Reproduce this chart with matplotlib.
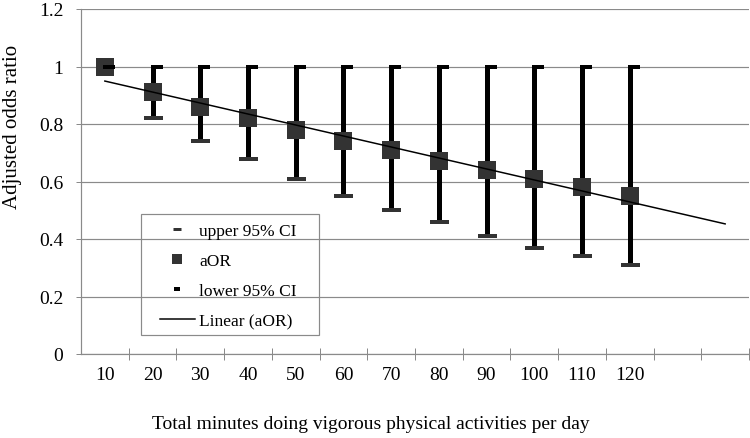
import numpy as np
import matplotlib
matplotlib.use("Agg")
import matplotlib.pyplot as plt
from matplotlib.lines import Line2D
from matplotlib.patches import Rectangle
from matplotlib.path import Path

# minutes of vigorous activity per day (category axis, two empty slots at the end)
minutes = ["10", "20", "30", "40", "50", "60", "70", "80", "90", "100", "110", "120"]
n_slots = 14

aor = [1.00, 0.91, 0.86, 0.82, 0.78, 0.74, 0.71, 0.67, 0.64, 0.61, 0.58, 0.55]
upper_ci = [1.00, 1.00, 1.00, 1.00, 1.00, 1.00, 1.00, 1.00, 1.00, 1.00, 1.00, 1.00]
lower_ci = [1.00, 0.82, 0.74, 0.68, 0.61, 0.55, 0.50, 0.46, 0.41, 0.37, 0.34, 0.31]

plt.rcParams['font.family'] = ['Liberation Serif', 'DejaVu Serif']

PX = 72 / 100  # points per pixel at dpi=100
dark = '#333333'
grid_col = '#8a8a8a'

fig = plt.figure(figsize=(7.5, 4.39), dpi=100)
ax = fig.add_axes([81 / 750, 1 - 355 / 439, 668 / 750, 345 / 439])

x = np.arange(1, len(minutes) + 1)

# high-low lines
ax.vlines(x, lower_ci, upper_ci, color='black', lw=5 * PX, zorder=3)

# aOR squares
ax.plot(x, aor, ls='none', marker='s', ms=18.5 * PX, mfc=dark, mec=dark, mew=0, zorder=4)

# lower CI dashes
ax.plot(x, lower_ci, ls='none', marker='_', ms=19 * PX, mew=4 * PX, color=dark, zorder=4)

# upper CI dashes (drawn offset to the right, like the Excel high-low style)
cap = Path([(-0.2, -0.2), (1, -0.2), (1, 0.2), (-0.2, 0.2), (-0.2, -0.2)],
           [Path.MOVETO, Path.LINETO, Path.LINETO, Path.LINETO, Path.CLOSEPOLY])
ax.plot(x, upper_ci, ls='none', marker=cap, ms=20 * PX, mfc='black', mew=0, zorder=5)

# linear trend of aOR, forecast forward 2 periods
slope, icpt = np.polyfit(x, aor, 1)
xt = np.array([1, n_slots])
ax.plot(xt, slope * xt + icpt, color='black', lw=1.5 * PX, zorder=6)

ax.set_xlim(0.5, n_slots + 0.5)
ax.set_ylim(0, 1.2)
ax.set_yticks(np.arange(0, 1.21, 0.2))
ax.set_yticklabels(['0', '0.2', '0.4', '0.6', '0.8', '1', '1.2'])
ax.yaxis.grid(True, color=grid_col, lw=1.2 * PX, zorder=0)
ax.set_axisbelow(True)

ax.set_xticks(x)
ax.set_xticklabels(minutes)
ax.set_xticks(np.arange(1.5, n_slots + 0.6, 1), minor=True)
ax.tick_params(axis='x', which='major', length=0, pad=9, labelsize=14)
ax.tick_params(axis='x', which='minor', direction='inout', length=9 * PX * 1.4, width=1 * PX, color=grid_col)
ax.tick_params(axis='y', length=5 * PX, width=1 * PX, color=grid_col, pad=9, labelsize=14)

for s in ['top', 'right']:
    ax.spines[s].set_visible(False)
for s in ['left', 'bottom']:
    ax.spines[s].set_color(grid_col)
    ax.spines[s].set_linewidth(1.2 * PX)

fig.text(13 / 750, 1 - 126.5 / 439, 'Adjusted odds ratio', rotation=90,
         ha='center', va='center', fontsize=15)
fig.text(371 / 750, 1 - 425 / 439, 'Total minutes doing vigorous physical activities per day',
         ha='center', va='center', fontsize=14)

# legend (transparent, gridlines show through) with a plain gray box
handles = [
    Line2D([], [], ls='none', marker='_', ms=8 * PX, mew=3 * PX, color=dark),
    Line2D([], [], ls='none', marker='s', ms=10 * PX, mfc=dark, mew=0),
    Line2D([], [], ls='none', marker='_', ms=6 * PX, mew=4 * PX, color='black'),
    Line2D([], [], color='black', lw=1.5 * PX),
]
labels = ['upper 95% CI', 'aOR', 'lower 95% CI', 'Linear (aOR)']
fig.legend(handles, labels, loc='upper left', bbox_to_anchor=(160 / 750, 1 - 224 / 439),
           frameon=False, fontsize=12.5, borderpad=0, borderaxespad=0,
           handlelength=2.0, handletextpad=0.25, labelspacing=0.8)
fig.add_artist(Rectangle((141 / 750, 1 - 336 / 439), 178 / 750, 121 / 439,
                         transform=fig.transFigure, fill=False, ec=grid_col, lw=1.2 * PX))

fig.savefig('out.png', dpi=100)
